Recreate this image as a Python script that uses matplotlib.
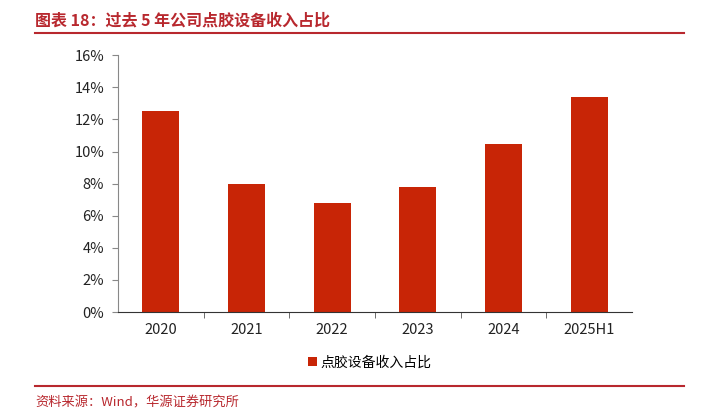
import matplotlib
matplotlib.use("Agg")
import matplotlib.pyplot as plt
from matplotlib.ticker import PercentFormatter

plt.rcParams['font.family'] = ['Noto Sans CJK SC', 'DejaVu Sans']

categories = ['2020', '2021', '2022', '2023', '2024', '2025H1']
share = [12.5, 8.0, 6.8, 7.8, 10.45, 13.4]
series_name = '点胶设备收入占比'
title = '图表 18：过去 5 年公司点胶设备收入占比'
source = '资料来源：Wind，华源证券研究所'

fig = plt.figure(figsize=(7.07, 4.15), dpi=100)
ax = fig.add_axes([0.167, 0.248, 0.727, 0.619])

x = range(len(categories))
ax.bar(x, share, width=0.43, color='#C82506', label=series_name, zorder=2)

ax.set_xlim(-0.5, len(categories) - 0.5)
ax.set_ylim(0, 16)
ax.set_yticks(range(0, 17, 2))
ax.yaxis.set_major_formatter(PercentFormatter(decimals=0))
ax.set_xticks(list(x))
ax.set_xticklabels(categories)
ax.tick_params(axis='x', length=0, pad=8, labelsize=10.5, colors='#222222')
ax.tick_params(axis='y', length=4, direction='out', color='#888888', labelsize=10.5,
               labelcolor='#222222', pad=6)
# separators between categories on x axis
ax.set_xticks([i + 0.5 for i in range(len(categories) - 1)], minor=True)
ax.tick_params(axis='x', which='minor', length=4, direction='out', color='#555555')

for s in ['top', 'right']:
    ax.spines[s].set_visible(False)
ax.spines['left'].set_color('#888888')
ax.spines['bottom'].set_color('#333333')

ax.legend(loc='upper center', bbox_to_anchor=(0.49, -0.12), frameon=False,
          fontsize=10, handlelength=0.6, handleheight=0.6, handletextpad=0.3)

# header and footer
fig.text(35 / 707, 1 - 20 / 415, title, fontsize=11.5, fontweight='bold',
         color='#B8282E', va='center', ha='left')
fig.add_artist(plt.Line2D([35 / 707, 684 / 707], [1 - 33 / 415, 1 - 33 / 415],
                          color='#B8282E', lw=1.5))
fig.add_artist(plt.Line2D([35 / 707, 684 / 707], [1 - 386 / 415, 1 - 386 / 415],
                          color='#B8282E', lw=1.5))
fig.text(35 / 707, 1 - 403 / 415, source, fontsize=9.5, color='#B8282E',
         va='center', ha='left')

fig.savefig('out.png', dpi=100)
